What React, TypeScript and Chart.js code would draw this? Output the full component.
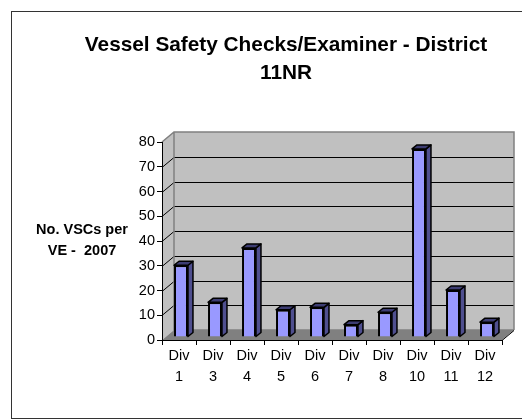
import React, { useEffect, useRef } from 'react';
import { Chart, registerables } from 'chart.js';

Chart.register(...registerables);

// ---- data ----
const divisions = ['1', '3', '4', '5', '6', '7', '8', '10', '11', '12'];
const categoryLabels = divisions.map((d) => ['Div', d]);
const vscPerExaminer = [29, 14, 36, 11, 12, 5, 10, 76, 19, 6];
const yMin = 0;
const yMax = 80;
const yStep = 10;
const titleLines = ['Vessel Safety Checks/Examiner - District', '11NR'];
const yTitleLines = ['No. VSCs per', 'VE -  2007'];

// ---- style ----
const FONT = "'Liberation Sans', Arial, Helvetica, sans-serif";
const WALL_DX = 12;
const WALL_DY = -10;
const BAR_OX = 2;
const BAR_OY = -3;
const BAR_DX = 5;
const BAR_DY = -4;
const BAR_FRONT = '#9999ff';
const BAR_SIDE = '#4f4f8f';
const BAR_TOP = '#3d3d73';
const WALL = '#c0c0c0';
const FLOOR = '#808080';
const WALL_EDGE = '#808080';

const threeD = {
  id: 'threeD',
  beforeDraw(chart: any) {
    const { ctx, chartArea: a } = chart;
    const y = chart.scales.y;
    ctx.save();
    // outer frame
    ctx.strokeStyle = '#333333';
    ctx.lineWidth = 1;
    ctx.strokeRect(11.5, 11.5, chart.width + 20, chart.height - 13);

    const bl = a.left + WALL_DX;
    const br = a.right + WALL_DX;
    const bt = a.top + WALL_DY;
    const bb = a.bottom + WALL_DY;

    // back wall
    ctx.fillStyle = WALL;
    ctx.fillRect(bl, bt, br - bl, bb - bt);
    // side wall
    ctx.beginPath();
    ctx.moveTo(a.left, a.top);
    ctx.lineTo(bl, bt);
    ctx.lineTo(bl, bb);
    ctx.lineTo(a.left, a.bottom);
    ctx.closePath();
    ctx.fill();
    // floor
    ctx.fillStyle = FLOOR;
    ctx.beginPath();
    ctx.moveTo(a.left, a.bottom);
    ctx.lineTo(bl, bb);
    ctx.lineTo(br, bb);
    ctx.lineTo(a.right, a.bottom);
    ctx.closePath();
    ctx.fill();

    // gridlines
    ctx.strokeStyle = '#000000';
    ctx.lineWidth = 1;
    for (let v = yMin + yStep; v < yMax; v += yStep) {
      const py = Math.round(y.getPixelForValue(v)) + 0.5;
      ctx.beginPath();
      ctx.moveTo(a.left, py);
      ctx.lineTo(bl, py + WALL_DY);
      ctx.lineTo(br, py + WALL_DY);
      ctx.stroke();
    }

    // wall edges
    ctx.strokeStyle = WALL_EDGE;
    ctx.lineWidth = 1.5;
    ctx.beginPath();
    ctx.moveTo(a.left, a.top);
    ctx.lineTo(bl, bt);
    ctx.lineTo(br, bt);
    ctx.lineTo(br, bb);
    ctx.moveTo(bl, bt);
    ctx.lineTo(bl, bb);
    ctx.lineTo(br, bb);
    ctx.stroke();

    // floor right edge
    ctx.strokeStyle = '#000000';
    ctx.lineWidth = 1;
    ctx.beginPath();
    ctx.moveTo(a.right, a.bottom + 0.5);
    ctx.lineTo(br, bb + 0.5);
    ctx.stroke();
    ctx.restore();
  },
  beforeDatasetsDraw(chart: any) {
    chart.ctx.save();
    chart.ctx.translate(BAR_OX, BAR_OY);
  },
  afterDatasetsDraw(chart: any) {
    const ctx = chart.ctx;
    const meta = chart.getDatasetMeta(0);
    ctx.lineWidth = 1.5;
    ctx.strokeStyle = '#000000';
    ctx.lineJoin = 'round';
    meta.data.forEach((el: any) => {
      const { x, y, base, width } = el.getProps(['x', 'y', 'base', 'width'], true);
      const l = x - width / 2;
      const r = x + width / 2;
      const t = Math.min(y, base);
      const b = Math.max(y, base);
      // side
      ctx.fillStyle = BAR_SIDE;
      ctx.beginPath();
      ctx.moveTo(r, t);
      ctx.lineTo(r + BAR_DX, t + BAR_DY);
      ctx.lineTo(r + BAR_DX, b + BAR_DY);
      ctx.lineTo(r, b);
      ctx.closePath();
      ctx.fill();
      ctx.stroke();
      // top
      ctx.fillStyle = BAR_TOP;
      ctx.beginPath();
      ctx.moveTo(l, t);
      ctx.lineTo(l + BAR_DX, t + BAR_DY);
      ctx.lineTo(r + BAR_DX, t + BAR_DY);
      ctx.lineTo(r, t);
      ctx.closePath();
      ctx.fill();
      ctx.stroke();
    });
    ctx.restore();
  },
  afterDraw(chart: any) {
    const ctx = chart.ctx;
    ctx.save();
    ctx.fillStyle = '#000000';
    ctx.font = `bold 14.5px ${FONT}`;
    ctx.textAlign = 'center';
    ctx.textBaseline = 'middle';
    yTitleLines.forEach((line, i) => {
      ctx.fillText(line, 82, 230 + i * 21);
    });
    ctx.restore();
  },
};

export default function App() {
  const ref = useRef<HTMLCanvasElement | null>(null);

  useEffect(() => {
    if (!ref.current) return;
    const chart = new Chart(ref.current, {
      type: 'bar',
      data: {
        labels: categoryLabels,
        datasets: [
          {
            data: vscPerExaminer,
            backgroundColor: BAR_FRONT,
            borderColor: '#000000',
            borderWidth: 2,
            barPercentage: 0.41,
            categoryPercentage: 1,
            clip: false as any,
          },
        ],
      },
      options: {
        responsive: false,
        animation: false,
        events: [],
        layout: { padding: { left: 70, right: 20, top: 0, bottom: 0 } },
        plugins: {
          legend: { display: false },
          tooltip: { enabled: false },
          title: {
            display: true,
            text: titleLines,
            color: '#000000',
            font: { family: FONT, size: 20.8, weight: 'bold', lineHeight: 28 / 20.8 },
            padding: { top: 31, bottom: 55 },
          },
        },
        scales: {
          x: {
            grid: {
              drawOnChartArea: false,
              drawTicks: true,
              tickLength: 5,
              color: '#000000',
              offset: true,
            },
            border: { display: true, color: '#000000', width: 1 },
            ticks: {
              color: '#000000',
              font: { family: FONT, size: 14.5, lineHeight: 21 / 14.5 },
              padding: 0,
              maxRotation: 0,
              autoSkip: false,
            },
            afterFit: (s: any) => {
              s.height = 80;
            },
          },
          y: {
            min: yMin,
            max: yMax,
            grid: {
              drawOnChartArea: false,
              drawTicks: true,
              tickLength: 5,
              color: '#000000',
            },
            border: { display: true, color: '#000000', width: 1 },
            ticks: {
              stepSize: yStep,
              color: '#000000',
              font: { family: FONT, size: 14.5 },
              padding: 2,
            },
            afterFit: (s: any) => {
              s.width = 92;
            },
          },
        },
      },
      plugins: [threeD],
    });
    return () => chart.destroy();
  }, []);

  return (
    <div style={{ position: 'absolute', left: 0, top: 0, width: 522, height: 420 }}>
      <canvas ref={ref} width={522} height={420} />
    </div>
  );
}
